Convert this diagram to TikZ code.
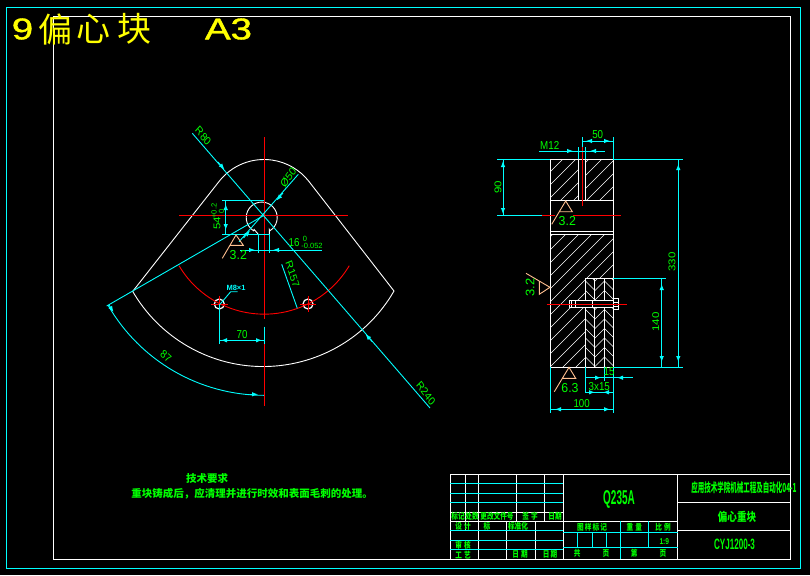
\documentclass[tikz,border=0pt]{standalone}
\usepackage{fontspec}
\usepackage{xcolor}
\setmainfont{Liberation Sans}
\newfontfamily\cjkfont{Noto Sans CJK SC}
\newfontfamily\heavyfont[FakeBold=1.2]{Liberation Sans}
\usetikzlibrary{arrows.meta,positioning,calc}
\definecolor{cadcyan}{RGB}{0,255,255}
\definecolor{cadgreen}{RGB}{0,255,0}
\definecolor{cadred}{RGB}{255,0,0}
\definecolor{cadorange}{RGB}{255,192,144}
\definecolor{cadyellow}{RGB}{255,255,0}
\tikzset{
    outline/.style={draw=white,line width=.9pt},
    dimline/.style={draw=cadcyan,line width=.9pt},
    axisline/.style={draw=cadred,line width=.9pt},
    roughline/.style={draw=cadorange,line width=.9pt},
    hatchline/.style={draw=white,line width=.6pt},
    dimtext/.style={text=cadgreen,inner sep=0pt,font=\fontsize{11.5}{11.5}\selectfont,xscale=.85},
    roughtext/.style={text=cadgreen,inner sep=0pt,font=\fontsize{13}{13}\selectfont,xscale=.95},
    smalltext/.style={text=cadgreen,inner sep=0pt,font=\fontsize{7.5}{7.5}\selectfont},
    cadtext/.style={text=cadgreen,inner sep=0pt,font=\cjkfont\bfseries\fontsize{10.5}{10.5}\selectfont},
    celltext/.style={text=cadgreen,inner sep=0pt,font=\cjkfont\bfseries\fontsize{8.5}{8.5}\selectfont,xscale=.78},
    titletext/.style={text=cadyellow,inner sep=0pt,font=\cjkfont\fontsize{34}{34}\selectfont},
    sizetext/.style={text=cadyellow,inner sep=0pt,font=\heavyfont\fontsize{30}{30}\selectfont,xscale=1.28},
}
% arrow head of a dimension: from the first point to the tip
\newcommand{\dimtip}[2]{\draw[dimline,-{Latex[length=6pt,width=4.5pt]}] #1 -- #2;}
% hatching inside a clip path: path, step, direction
\newcommand{\hatchfill}[3]{
    \begin{scope}
        \clip #1;
        \foreach \k in {-30,...,30}
            \draw[hatchline] ({500+\k*#2},300) -- ++(300,{-300*#3}) (500+\k*#2,300) -- ++(-300,{300*#3});
    \end{scope}
}
% roughness mark: apex, base left, base right, tail end
\newcommand{\roughmark}[4]{\draw[roughline] #4 -- #1 -- #3 -- #2;}
\begin{document}
\begin{tikzpicture}[x=1pt,y=-1pt]
    \useasboundingbox (0,0) rectangle (810,575);
    \fill[black] (0,0) rectangle (810,575);

    % Frames
    \draw[dimline] (6.7,7.7) rectangle (800.3,568.3);
    \draw[outline] (53.3,16.3) rectangle (790.5,559.3);
    \node[sizetext] (numtitle) at (22.5,29) {9};
    \node[titletext] (cjktitle1) at (55.5,29) {偏};
    \node[titletext] (cjktitle2) at (93.5,29) {心};
    \node[titletext] (cjktitle3) at (134,29) {块};
    \node[sizetext] (sizetitle) at (228.5,29) {A3};

    \coordinate (ctr) at (264,215.3);

    % Front view: outline
    \draw[outline] (133,291) -- ($(264,216.5)+(218.3:57)$) arc (218.3:321.7:57) -- (394,291)
        arc (30:150:151);
    \draw[outline] (269.3,234.3) -- (269.3,229.5) arc (180:125:1.5) arc (58:-238:15.5) arc (55:0:1.5) -- (258.3,234.3);
    \draw[outline,line width=1.2pt] (219.3,304) circle (5);
    \draw[outline,line width=1.2pt] (308,304) circle (5);

    % Front view: centre lines
    \draw[axisline] (179,215.3) -- (348,215.3);
    \draw[axisline] (264,137) -- (264,318.7);
    \draw[axisline] (264,326.7) -- (264,405.7);
    \draw[axisline] (179,265.7) arc (149.3:30.7:99);
    \draw[axisline] (211,304) -- (227.5,304) (219.3,296) -- (219.3,312);
    \draw[axisline] (300,304) -- (316,304) (308,296) -- (308,312);

    % Front view: dimensions
    \draw[dimline] (192.3,133.3) -- (430,408);
    \dimtip{(218,162)}{(224.5,169.5)}
    \dimtip{(372,341.5)}{(365.5,334)}
    \draw[dimline] (298.3,174.3) -- (239,241.7);
    \dimtip{(283,193)}{(276.5,200.5)}
    \dimtip{(243.5,238)}{(250,230.5)}
    \draw[dimline] (106.7,306) -- (ctr);
    \draw[dimline] (108.1,305.3) arc (150:90:180);
    \dimtip{(109,305)}{(113.5,312)}
    \dimtip{(250,394.3)}{(258,394.3)}
    \draw[dimline] (222.3,200.3) -- (264,200.3);
    \draw[dimline] (222.3,234.3) -- (269.3,234.3);
    \draw[dimline] (225.7,200.3) -- (225.7,234.3);
    \dimtip{(225.7,211)}{(225.7,204)}
    \dimtip{(225.7,223)}{(225.7,230)}
    \draw[dimline] (258.3,234.3) -- (258.3,253.3);
    \draw[dimline] (269.3,234.3) -- (269.3,253.3);
    \draw[dimline] (240,250) -- (321.7,250);
    \dimtip{(248,250)}{(255,250)}
    \dimtip{(280,250)}{(273,250)}
    \draw[dimline] (219.3,304) -- (219.3,344.3);
    \draw[dimline] (264,326.7) -- (264,344.3);
    \draw[dimline] (219.3,340.3) -- (264,340.3);
    \dimtip{(228,340.3)}{(221,340.3)}
    \dimtip{(255,340.3)}{(262,340.3)}
    \draw[dimline] (281.7,264.3) -- (297.3,308.3);
    \draw[dimline] (220,304.3) -- (230.7,291.7) -- (237.7,291.7);
    \node[text=cadcyan,inner sep=0pt,font=\bfseries\fontsize{7.5}{7.5}\selectfont] (labMhole) at (236,287.7) {M8×1};

    \node[dimtext,rotate=-47] (labRtop) at (203.3,136) {R80};
    \node[dimtext,rotate=50] (labDbore) at (288.3,177.7) {Ø50};
    \node[dimtext,rotate=-50] (labRout) at (426,393) {R240};
    \node[dimtext,rotate=-70] (labRhole) at (292.5,274) {R157};
    \node[dimtext,rotate=-38] (labAngle) at (166,356) {87};
    \node[dimtext] (labPitch) at (242,335) {70};
    \node[dimtext,rotate=90] (labKey) at (217,223) {54};
    \node[smalltext,rotate=90] (labKeyup) at (214,211) {+0.2};
    \node[smalltext,rotate=90] (labKeylow) at (221.5,211) {0};
    \node[dimtext] (labWidth) at (294,242.3) {16};
    \node[smalltext] (labWidthup) at (305,238.5) {0};
    \node[smalltext] (labWidthlow) at (312,245.5) {-0.052};
    \roughmark{(236,235)}{(230,245.3)}{(243.3,245.3)}{(222.3,258.3)}
    \node[roughtext] (labRoughA) at (238.3,255) {3.2};

    % Side view: hatching
    \hatchfill{(550,159.3) rectangle (578.3,200.3)}{13}{1}
    \hatchfill{(585.7,159.3) rectangle (613.3,200.3)}{13}{1}
    \hatchfill{(550,234.3) -- (613.3,234.3) -- (613.3,278.3) -- (585.3,278.3) -- (585.3,367.3) -- (550,367.3) -- cycle}{13}{1}
    \hatchfill{(585.3,278.3) rectangle (594.3,367.3)}{9.5}{-1}
    \hatchfill{(594.3,278.3) rectangle (604.3,367.3)}{9.5}{1}
    \hatchfill{(604.3,278.3) rectangle (613.3,367.3)}{9.5}{-1}

    % Side view: outline
    \draw[outline] (550,159.3) rectangle (613.3,367.3);
    \draw[outline] (550,200.3) -- (613.3,200.3);
    \draw[outline] (550,231.3) -- (613.3,231.3);
    \draw[outline] (550,234.3) -- (613.3,234.3);
    \draw[outline] (578.3,159.3) -- (578.3,200.3);
    \draw[outline] (585.7,159.3) -- (585.7,200.3);
    \draw[outline] (585.3,278.3) -- (613.3,278.3);
    \foreach \xv in {585.3,594.3,604.3}
        \draw[outline] (\xv,278.3) -- (\xv,367.3);

    % Side view: bolt
    \draw[outline,fill=black] (569.3,300) rectangle (613.3,307.3);
    \draw[outline,fill=black] (613.3,298.3) rectangle (618.7,309.7);
    \draw[outline] (613.3,302.3) -- (618.7,302.3) (613.3,306) -- (618.7,306);
    \draw[outline] (575.7,300) -- (575.7,307.3);
    \draw[outline] (592.3,300) -- (592.3,307.3);
    \draw[outline] (571,300) -- (571,307.3);

    % Side view: centre lines
    \draw[axisline,line width=1.2pt] (582.3,146.7) -- (582.3,205.7);
    \draw[axisline] (541.7,215.3) -- (555,215.3);
    \draw[axisline] (573.3,215.3) -- (620.7,215.3);
    \draw[axisline] (546.7,304.3) -- (626.7,304.3);

    % Side view: dimensions
    \draw[dimline] (497,159.3) -- (550,159.3);
    \draw[dimline] (613.3,159.3) -- (683,159.3);
    \draw[dimline] (497,215.3) -- (541.7,215.3);
    \draw[dimline] (503,159.3) -- (503,215.3);
    \dimtip{(503,168)}{(503,161)}
    \dimtip{(503,207)}{(503,214)}
    \draw[dimline] (678.3,159.3) -- (678.3,367.3);
    \dimtip{(678.3,172)}{(678.3,164)}
    \dimtip{(678.3,354)}{(678.3,362)}
    \draw[dimline] (613.3,367.3) -- (683,367.3);
    \draw[dimline] (613.3,278.3) -- (665.7,278.3);
    \draw[dimline] (661.7,278.3) -- (661.7,367.3);
    \dimtip{(661.7,291)}{(661.7,284)}
    \dimtip{(661.7,354)}{(661.7,362)}
    \draw[dimline] (539,151) -- (605,151);
    \draw[dimline] (578.3,147.3) -- (578.3,159.3);
    \draw[dimline] (585.7,147.3) -- (585.7,159.3);
    \dimtip{(565,151)}{(573,151)}
    \dimtip{(597,151)}{(590,151)}
    \draw[dimline] (582.3,137.3) -- (582.3,146.7);
    \draw[dimline] (613.3,137.3) -- (613.3,159.3);
    \draw[dimline] (582.3,141) -- (613.3,141);
    \dimtip{(593,141)}{(586,141)}
    \dimtip{(603,141)}{(610,141)}
    \draw[dimline] (585.3,377.7) -- (632.7,377.7);
    \dimtip{(594,377.7)}{(601,377.7)}
    \dimtip{(624,377.7)}{(617,377.7)}
    \draw[dimline] (585.3,367.3) -- (585.3,392.3);
    \draw[dimline] (604.3,367.3) -- (604.3,381);
    \draw[dimline] (585.3,392.3) -- (613.3,392.3);
    \dimtip{(588,392.3)}{(595,392.3)}
    \dimtip{(610,392.3)}{(603,392.3)}
    \draw[dimline] (550.3,367.3) -- (550.3,413.3);
    \draw[dimline] (613.3,367.3) -- (613.3,413.3);
    \draw[dimline] (550.3,409.3) -- (613.3,409.3);
    \dimtip{(562,409.3)}{(555,409.3)}
    \dimtip{(603,409.3)}{(610,409.3)}

    \node[dimtext] (labM) at (549.7,145) {M12};
    \node[dimtext] (labTop) at (597.7,135) {50};
    \node[dimtext,rotate=90] (labSlot) at (498,187) {90};
    \node[dimtext,rotate=90] (labHeight) at (672,262) {330};
    \node[dimtext,rotate=90] (labInset) at (655.7,322) {140};
    \node[dimtext] (labStep) at (609,371.7) {15};
    \node[dimtext] (labChamfer) at (599.3,386.7) {3x15};
    \node[dimtext] (labBase) at (581.7,403.3) {100};

    \roughmark{(565.7,201)}{(559,211.7)}{(572.3,211.7)}{(551.7,224.3)}
    \node[roughtext] (labRoughB) at (567.3,221) {3.2};
    \roughmark{(550,287.3)}{(539.3,281)}{(539.3,294.3)}{(526,273.3)}
    \node[roughtext,rotate=90] (labRoughC) at (530,287.3) {3.2};
    \roughmark{(569,367.3)}{(562.3,378.3)}{(575.7,378.3)}{(554.3,391.7)}
    \node[roughtext] (labRoughD) at (570,388.3) {6.3};

    % Notes
    \node[cadtext] (noteHead) at (207,478) {技术要求};
    \node[cadtext] (noteBody) at (252,494) {重块铸成后，应清理并进行时效和表面毛刺的处理。};

    % Title block
    \draw[outline] (450.3,474.3) rectangle (790.5,559.3);
    \draw[outline] (563.3,474.3) -- (563.3,559.3);
    \draw[outline] (677.7,474.3) -- (677.7,559.3);
    \draw[outline] (677.7,502.3) -- (790.5,502.3);
    \draw[outline] (677.7,530.3) -- (790.5,530.3);
    \draw[outline] (450.3,512.3) -- (563.3,512.3);
    \draw[outline] (450.3,521) -- (677.7,521);
    \foreach \xv in {465,516,544}
        \draw[outline] (\xv,474.3) -- (\xv,521);
    \draw[outline] (465,521) -- (465,530.3);
    \draw[outline] (478.3,474.3) -- (478.3,559.3);
    \draw[outline] (506,521) -- (506,559.3);
    \draw[outline] (535.3,521) -- (535.3,559.3);
    \foreach \yv in {483.3,493.3,502.3}
        \draw[dimline] (450.3,\yv) -- (563.3,\yv);
    \foreach \yv in {530.3,540.3,549.3}
        \draw[dimline] (450.3,\yv) -- (563.3,\yv);
    \draw[dimline] (563.3,532.3) -- (677.7,532.3);
    \draw[dimline] (563.3,547.3) -- (677.7,547.3);
    \foreach \xv in {577.3,592,606.3}
        \draw[dimline] (\xv,532.3) -- (\xv,547.3);
    \draw[dimline] (620.7,521) -- (620.7,559.3);
    \draw[dimline] (648.3,521) -- (648.3,547.3);

    \node[celltext] (cellMark) at (458,516.7) {标记};
    \node[celltext] (cellCount) at (472,516.7) {处数};
    \node[celltext] (cellChange) at (497,516.7) {更改文件号};
    \node[celltext] (cellSign) at (530,516.7) {签\,\,字};
    \node[celltext] (cellDate) at (555,516.7) {日期};
    \node[celltext] (cellDesign) at (463,526) {设\,\,计};
    \node[celltext] (cellDesignB) at (487,526) {标};
    \node[celltext] (cellStd) at (518,526) {标准化};
    \node[celltext] (cellCheck) at (463,545) {审\,\,核};
    \node[celltext] (cellCraft) at (463,555) {工\,\,艺};
    \node[celltext] (cellDateA) at (520,554) {日\,\,期};
    \node[celltext] (cellDateB) at (550,554) {日\,期};
    \node[celltext] (cellMass) at (592,527) {图\,样\,标\,记};
    \node[celltext] (cellWeight) at (634.3,527) {重\,\,量};
    \node[celltext] (cellRatio) at (663,527) {比\,\,例};
    \node[celltext,font=\bfseries\fontsize{8.5}{8.5}\selectfont] (cellScale) at (664.3,541.7) {1:9};
    \node[celltext] (cellAll) at (577.3,553) {共};
    \node[celltext] (cellPage) at (606,553) {页};
    \node[celltext] (cellNo) at (634.3,553) {第};
    \node[celltext] (cellPageB) at (663,553) {页};

    \node[cadtext,font=\bfseries\fontsize{20}{20}\selectfont,xscale=.5] (material) at (619,499) {Q235A};
    \node[cadtext,font=\cjkfont\bfseries\fontsize{12.5}{12.5}\selectfont,xscale=.52] (school) at (744,488) {应用技术学院机械工程及自动化04-1};
    \node[cadtext,font=\cjkfont\bfseries\fontsize{12}{12}\selectfont,xscale=.8] (partName) at (737,516.5) {偏心重块};
    \node[cadtext,font=\bfseries\fontsize{15}{15}\selectfont,xscale=.54] (partCode) at (734.5,544) {CYJ1200-3};
\end{tikzpicture}
\end{document}
